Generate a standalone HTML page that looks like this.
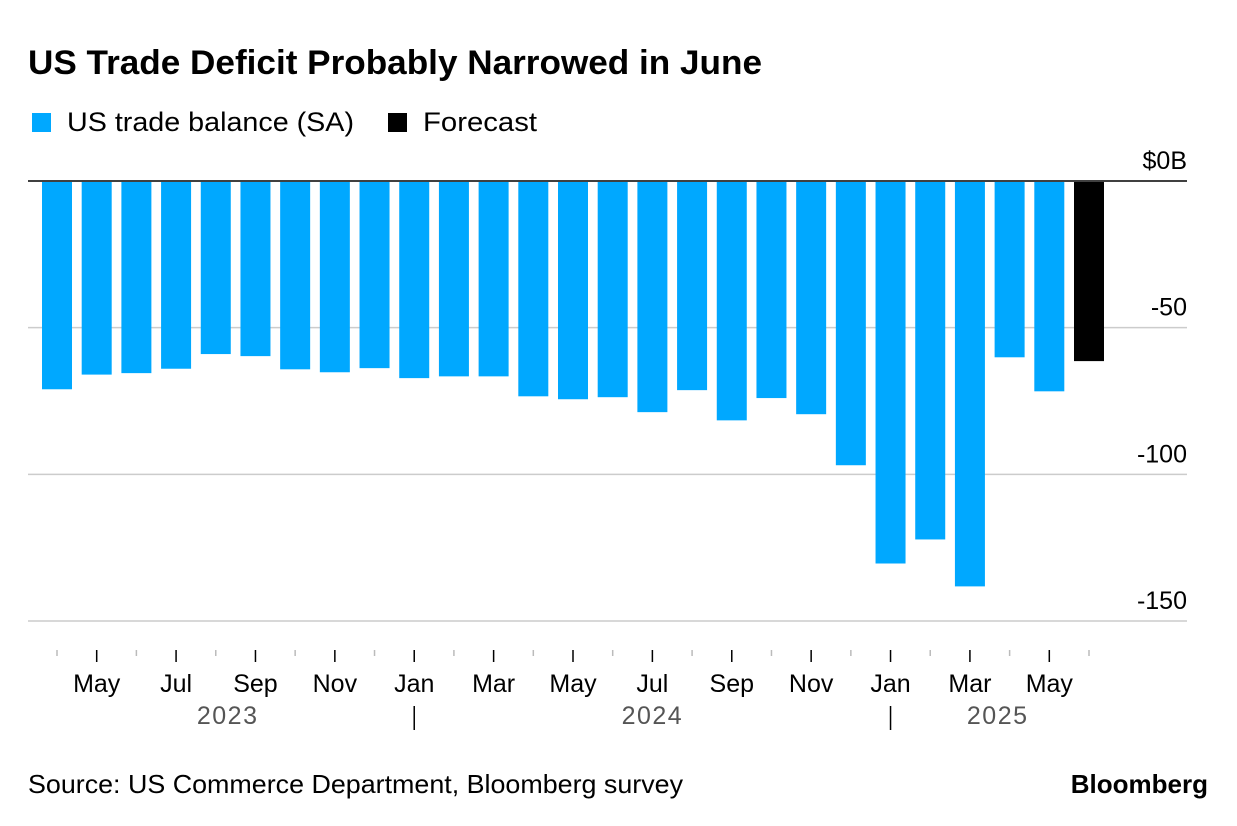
<!DOCTYPE html>
<html><head><meta charset="utf-8"><style>
body{margin:0;background:#fff;font-family:"Liberation Sans",sans-serif;}
#root{position:relative;width:1237px;height:826px;overflow:hidden;}
</style></head><body>
<div id="root">
<svg id="svg" width="1237" height="826" style="position:absolute;left:0;top:0">
<text x="28" y="74" font-size="34" font-weight="bold" fill="#000" textLength="734" lengthAdjust="spacingAndGlyphs">US Trade Deficit Probably Narrowed in June</text>
<g>
<rect x="32" y="113" width="19" height="19" fill="#00a8ff"/>
<text x="67" y="131" font-size="27" fill="#000" textLength="287" lengthAdjust="spacingAndGlyphs">US trade balance (SA)</text>
<rect x="388" y="113" width="19" height="19" fill="#000"/>
<text x="423" y="131" font-size="27" fill="#000" textLength="114" lengthAdjust="spacingAndGlyphs">Forecast</text>
</g>
<g id="grid"></g><g id="bars"></g><g id="xaxis"></g>
<text x="28" y="793" font-size="26" fill="#000" textLength="655" lengthAdjust="spacingAndGlyphs">Source: US Commerce Department, Bloomberg survey</text>
<text x="1208" y="793" font-size="26" font-weight="bold" text-anchor="end" fill="#000">Bloomberg</text>
</svg>
</div>
<script>
const months = ["Apr","May","Jun","Jul","Aug","Sep","Oct","Nov","Dec","Jan","Feb","Mar","Apr","May","Jun","Jul","Aug","Sep","Oct","Nov","Dec","Jan","Feb","Mar","Apr","May","Jun"];
const values = [-71,-66,-65.5,-64,-59,-59.7,-64.2,-65.2,-63.8,-67.2,-66.6,-66.6,-73.4,-74.4,-73.7,-78.8,-71.3,-81.6,-74,-79.5,-96.9,-130.4,-122.2,-138.2,-60.1,-71.7,-61.4];
const isForecast = [0,0,0,0,0,0,0,0,0,0,0,0,0,0,0,0,0,0,0,0,0,0,0,0,0,0,1];
const yTicks = [0,-50,-100,-150];
const yTickLabels = ["$0B","-50","-100","-150"];
const yearLabels = ["2023","2024","2025"];
const yearStart = [0,9,21];
const yearLabelAt = [4.3,15,23.7];

const NS="http://www.w3.org/2000/svg";
const y = v => 181 + (-v) * (621-181)/150;
const x = i => 57 + i * (1089-57)/26;
const bw = 30;
function mk(tag, attrs, parent){const e=document.createElementNS(NS,tag);for(const k in attrs)e.setAttribute(k,attrs[k]);parent.appendChild(e);return e;}
const grid=document.getElementById('grid'), bars=document.getElementById('bars'), xa=document.getElementById('xaxis');
yTicks.forEach((t,i)=>{
  const l=mk('line',{x1:28,x2:1187,y1:y(t),y2:y(t),stroke:t===0?'#000':'#ccc','stroke-width':1.5},grid);
  
  
  const tx=mk('text',{x:1187,y:y(t)-12,'font-size':25,'text-anchor':'end',fill:'#000'},grid);
  tx.textContent=yTickLabels[i];
  
  
});
values.forEach((v,i)=>{
  const r=mk('rect',{x:x(i)-bw/2,y:y(0)+1,width:bw,height:Math.max(0,y(v)-y(0)-1),fill:isForecast[i]?'#000':'#00a8ff'},bars);
  
  
});
months.forEach((m,i)=>{
  const major = i%2===1;
  const t=mk('line',{x1:x(i),x2:x(i),y1:650,y2:major?662:656,stroke:major?'#000':'#bbb','stroke-width':1.5},xa);
  
  
  if(major){
    const tx=mk('text',{x:x(i),y:692,'font-size':25,'text-anchor':'middle',fill:'#000'},xa);
    tx.textContent=m;
    
    
  }
});
yearLabels.forEach((lab,k)=>{
  const tx=mk('text',{x:x(yearLabelAt[k]),y:724,'font-size':25,'text-anchor':'middle',fill:'#555','letter-spacing':'1.5'},xa);
  tx.textContent=lab;
  
  
  if(k>0){
    const sx=x(yearStart[k]);
    const s=mk('line',{x1:sx,x2:sx,y1:706,y2:730,stroke:'#000','stroke-width':1.5},xa);
    
    
  }
});
</script>
</body></html>
